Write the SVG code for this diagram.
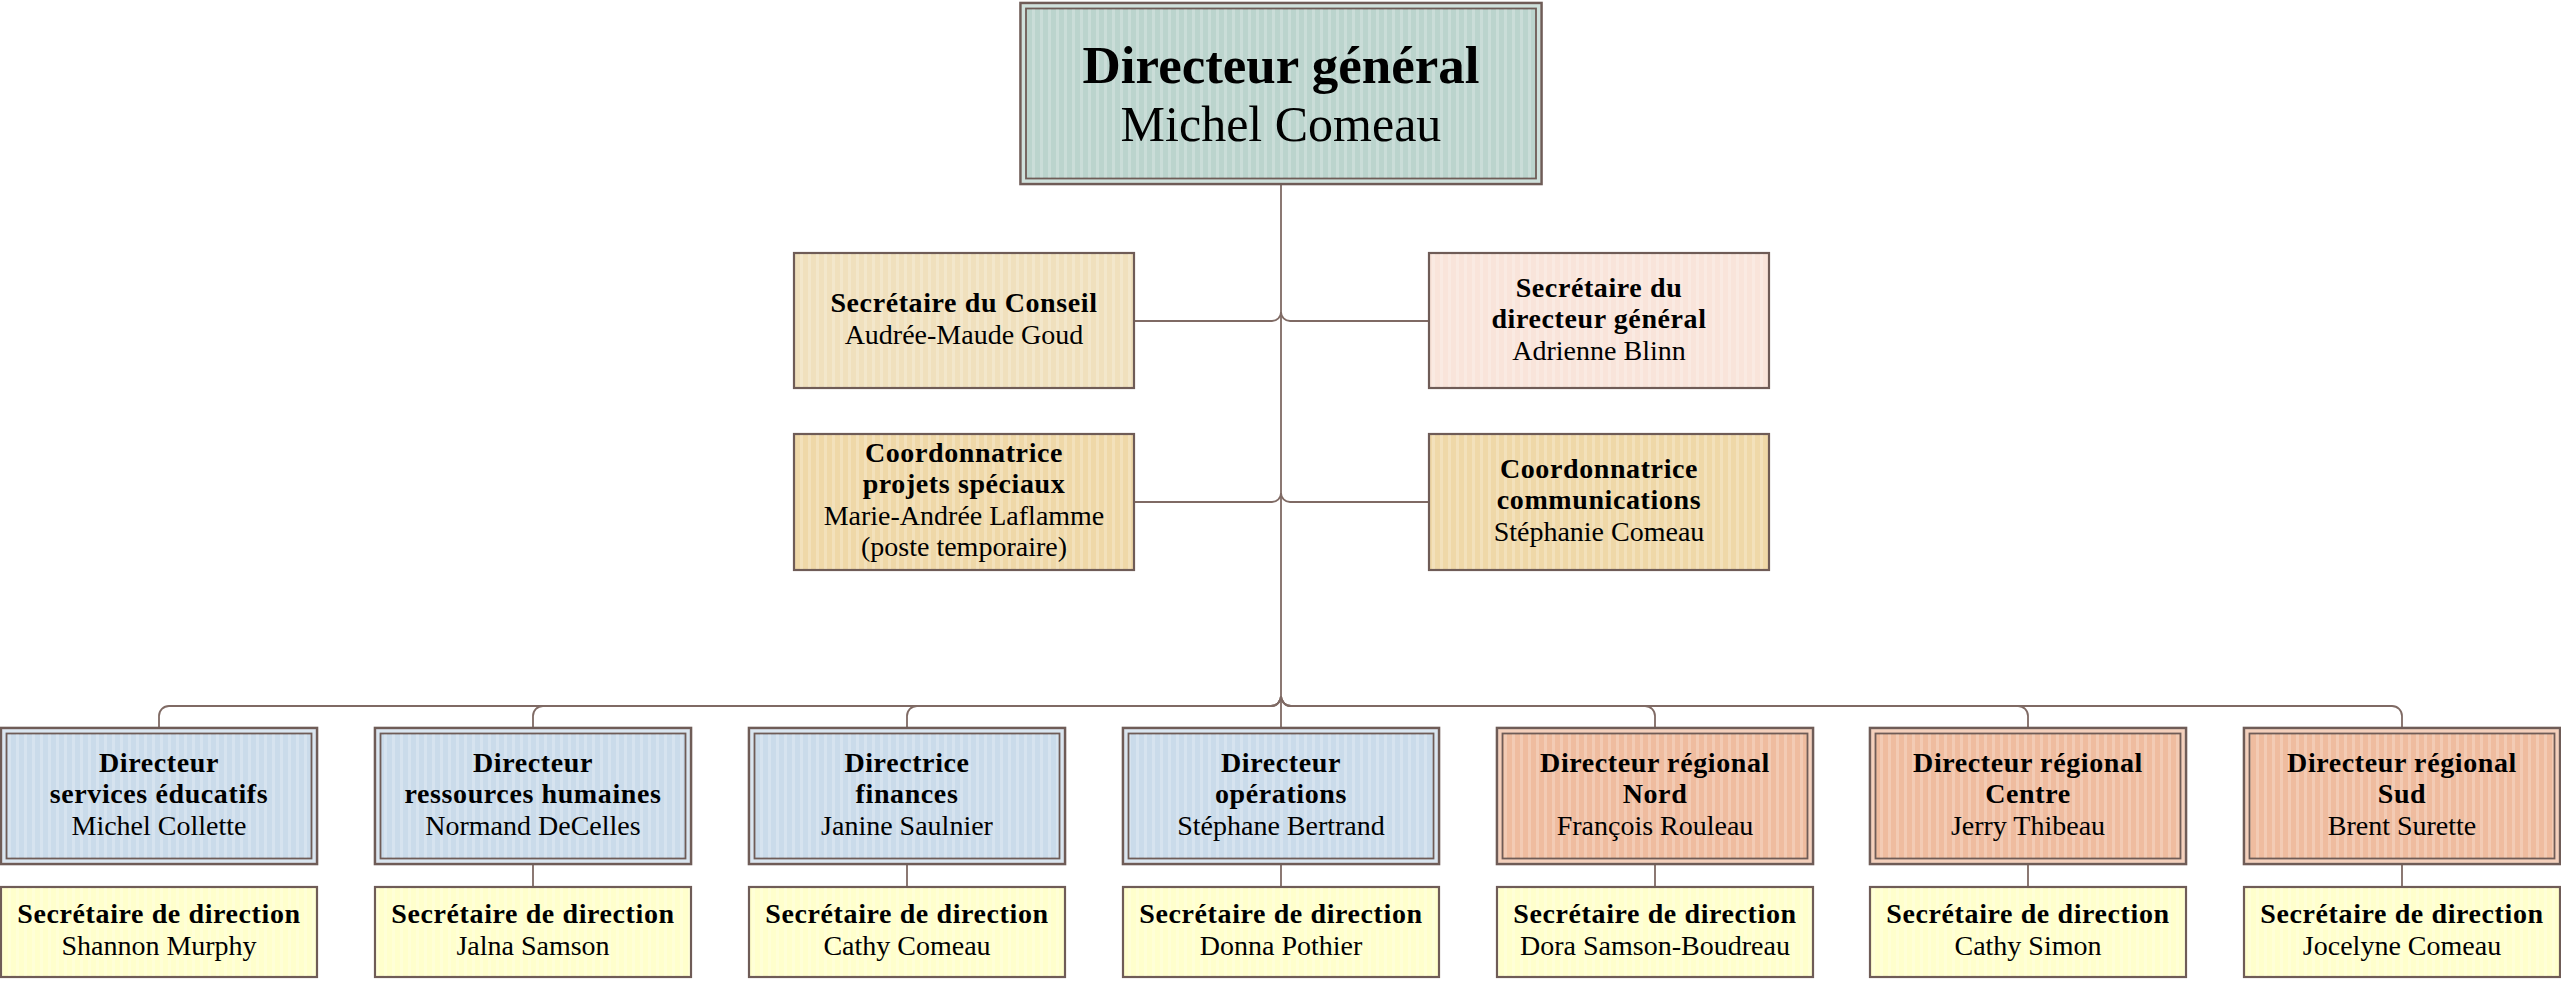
<svg xmlns="http://www.w3.org/2000/svg" width="2561" height="981" viewBox="0 0 2561 981">
<defs>
<pattern id="stripes" patternUnits="userSpaceOnUse" width="8" height="10">
<rect x="0" y="0" width="3" height="10" fill="#ffffff" fill-opacity="0.22"/>
</pattern>
<style>
.bx{stroke:#6f5c57;stroke-width:2.2}
.band{stroke:#6f5c57;stroke-width:2.6}
.inner{stroke:#6f5c57;stroke-width:1.8}
.st{fill:url(#stripes);stroke:none}
.teal{fill:#bbd4cd}
.blue{fill:#cadbea}
.sal{fill:#efbc9f}
.yel{fill:#ffffcc}
.cons{fill:#f0e0bd}
.sdg{fill:#f9e4da}
.coo{fill:#efd8a8}
.wash{fill:#ffffff;fill-opacity:0.3;stroke:none}
text{font-family:"Liberation Serif","Times New Roman",serif;fill:#000;text-anchor:middle}
.b{font-weight:bold;font-size:28px;letter-spacing:0.6px}
.r{font-size:28px}
.conn path{fill:none;stroke:#7f6a64;stroke-width:1.8}
</style>
</defs>

<g class="conn" id="connectors">
<path d="M1281,184 V728"/>
<path d="M1134,321 H1272 A9,9 0 0 0 1281,312"/>
<path d="M1429,321 H1290 A9,9 0 0 1 1281,312"/>
<path d="M1134,502 H1272 A9,9 0 0 0 1281,493"/>
<path d="M1429,502 H1290 A9,9 0 0 1 1281,493"/>
<path d="M1281,696 A10,10 0 0 1 1271,706 H169 A10,10 0 0 0 159,716 V728"/>
<path d="M1281,696 A10,10 0 0 1 1271,706 H543 A10,10 0 0 0 533,716 V728"/>
<path d="M1281,696 A10,10 0 0 1 1271,706 H917 A10,10 0 0 0 907,716 V728"/>
<path d="M1281,696 A10,10 0 0 0 1291,706 H1645 A10,10 0 0 1 1655,716 V728"/>
<path d="M1281,696 A10,10 0 0 0 1291,706 H2018 A10,10 0 0 1 2028,716 V728"/>
<path d="M1281,696 A10,10 0 0 0 1291,706 H2392 A10,10 0 0 1 2402,716 V728"/>
<path d="M533,865 V887"/>
<path d="M907,865 V887"/>
<path d="M1281,865 V887"/>
<path d="M1655,865 V887"/>
<path d="M2028,865 V887"/>
<path d="M2402,865 V887"/>
</g>

<g id="dg">
<rect class="band teal" x="1020.5" y="3" width="521" height="181"/>
<rect class="wash" x="1021.5" y="4" width="519" height="179"/>
<rect class="inner teal" x="1026" y="8.5" width="510" height="170"/>
<rect class="st" x="1027" y="9.5" width="508" height="168"/>
<text x="1281" y="83" style="font-weight:bold;font-size:53px">Directeur général</text>
<text x="1281" y="141" style="font-size:50px">Michel Comeau</text>
</g>

<g id="sec-conseil">
<rect class="bx cons" x="794" y="253" width="340" height="135"/>
<rect class="st" x="795" y="254" width="338" height="133"/>
<text class="b" x="964" y="312.3">Secrétaire du Conseil</text>
<text class="r" x="964" y="343.8">Audrée-Maude Goud</text>
</g>

<g id="sec-dg">
<rect class="bx sdg" x="1429" y="253" width="340" height="135"/>
<rect class="st" x="1430" y="254" width="338" height="133"/>
<text class="b" x="1599" y="296.5">Secrétaire du</text>
<text class="b" x="1599" y="328">directeur général</text>
<text class="r" x="1599" y="359.5">Adrienne Blinn</text>
</g>

<g id="coord-projets">
<rect class="bx coo" x="794" y="434" width="340" height="136"/>
<rect class="st" x="795" y="435" width="338" height="134"/>
<text class="b" x="964" y="461.8">Coordonnatrice</text>
<text class="b" x="964" y="493.3">projets spéciaux</text>
<text class="r" x="964" y="524.8">Marie-Andrée Laflamme</text>
<text class="r" x="964" y="556.3">(poste temporaire)</text>
</g>

<g id="coord-comm">
<rect class="bx coo" x="1429" y="434" width="340" height="136"/>
<rect class="st" x="1430" y="435" width="338" height="134"/>
<text class="b" x="1599" y="477.5">Coordonnatrice</text>
<text class="b" x="1599" y="509">communications</text>
<text class="r" x="1599" y="540.5">Stéphanie Comeau</text>
</g>

<g id="dir-educ">
<rect class="band blue" x="1" y="728" width="316" height="136"/>
<rect class="wash" x="2" y="729" width="314" height="134"/>
<rect class="inner blue" x="6.5" y="733.5" width="305" height="125"/>
<rect class="st" x="7.5" y="734.5" width="303" height="123"/>
<text class="b" x="159" y="771.5">Directeur</text>
<text class="b" x="159" y="803">services éducatifs</text>
<text class="r" x="159" y="834.5">Michel Collette</text>
</g>

<g id="dir-rh">
<rect class="band blue" x="375" y="728" width="316" height="136"/>
<rect class="wash" x="376" y="729" width="314" height="134"/>
<rect class="inner blue" x="380.5" y="733.5" width="305" height="125"/>
<rect class="st" x="381.5" y="734.5" width="303" height="123"/>
<text class="b" x="533" y="771.5">Directeur</text>
<text class="b" x="533" y="803">ressources humaines</text>
<text class="r" x="533" y="834.5">Normand DeCelles</text>
</g>

<g id="dir-fin">
<rect class="band blue" x="749" y="728" width="316" height="136"/>
<rect class="wash" x="750" y="729" width="314" height="134"/>
<rect class="inner blue" x="754.5" y="733.5" width="305" height="125"/>
<rect class="st" x="755.5" y="734.5" width="303" height="123"/>
<text class="b" x="907" y="771.5">Directrice</text>
<text class="b" x="907" y="803">finances</text>
<text class="r" x="907" y="834.5">Janine Saulnier</text>
</g>

<g id="dir-ops">
<rect class="band blue" x="1123" y="728" width="316" height="136"/>
<rect class="wash" x="1124" y="729" width="314" height="134"/>
<rect class="inner blue" x="1128.5" y="733.5" width="305" height="125"/>
<rect class="st" x="1129.5" y="734.5" width="303" height="123"/>
<text class="b" x="1281" y="771.5">Directeur</text>
<text class="b" x="1281" y="803">opérations</text>
<text class="r" x="1281" y="834.5">Stéphane Bertrand</text>
</g>

<g id="dir-nord">
<rect class="band sal" x="1497" y="728" width="316" height="136"/>
<rect class="wash" x="1498" y="729" width="314" height="134"/>
<rect class="inner sal" x="1502.5" y="733.5" width="305" height="125"/>
<rect class="st" x="1503.5" y="734.5" width="303" height="123"/>
<text class="b" x="1655" y="771.5">Directeur régional</text>
<text class="b" x="1655" y="803">Nord</text>
<text class="r" x="1655" y="834.5">François Rouleau</text>
</g>

<g id="dir-centre">
<rect class="band sal" x="1870" y="728" width="316" height="136"/>
<rect class="wash" x="1871" y="729" width="314" height="134"/>
<rect class="inner sal" x="1875.5" y="733.5" width="305" height="125"/>
<rect class="st" x="1876.5" y="734.5" width="303" height="123"/>
<text class="b" x="2028" y="771.5">Directeur régional</text>
<text class="b" x="2028" y="803">Centre</text>
<text class="r" x="2028" y="834.5">Jerry Thibeau</text>
</g>

<g id="dir-sud">
<rect class="band sal" x="2244" y="728" width="316" height="136"/>
<rect class="wash" x="2245" y="729" width="314" height="134"/>
<rect class="inner sal" x="2249.5" y="733.5" width="305" height="125"/>
<rect class="st" x="2250.5" y="734.5" width="303" height="123"/>
<text class="b" x="2402" y="771.5">Directeur régional</text>
<text class="b" x="2402" y="803">Sud</text>
<text class="r" x="2402" y="834.5">Brent Surette</text>
</g>

<g id="sec-educ">
<rect class="bx yel" x="1" y="887" width="316" height="90"/>
<rect class="st" x="2" y="888" width="314" height="88"/>
<text class="b" x="159" y="923.3">Secrétaire de direction</text>
<text class="r" x="159" y="954.8">Shannon Murphy</text>
</g>

<g id="sec-rh">
<rect class="bx yel" x="375" y="887" width="316" height="90"/>
<rect class="st" x="376" y="888" width="314" height="88"/>
<text class="b" x="533" y="923.3">Secrétaire de direction</text>
<text class="r" x="533" y="954.8">Jalna Samson</text>
</g>

<g id="sec-fin">
<rect class="bx yel" x="749" y="887" width="316" height="90"/>
<rect class="st" x="750" y="888" width="314" height="88"/>
<text class="b" x="907" y="923.3">Secrétaire de direction</text>
<text class="r" x="907" y="954.8">Cathy Comeau</text>
</g>

<g id="sec-ops">
<rect class="bx yel" x="1123" y="887" width="316" height="90"/>
<rect class="st" x="1124" y="888" width="314" height="88"/>
<text class="b" x="1281" y="923.3">Secrétaire de direction</text>
<text class="r" x="1281" y="954.8">Donna Pothier</text>
</g>

<g id="sec-nord">
<rect class="bx yel" x="1497" y="887" width="316" height="90"/>
<rect class="st" x="1498" y="888" width="314" height="88"/>
<text class="b" x="1655" y="923.3">Secrétaire de direction</text>
<text class="r" x="1655" y="954.8">Dora Samson-Boudreau</text>
</g>

<g id="sec-centre">
<rect class="bx yel" x="1870" y="887" width="316" height="90"/>
<rect class="st" x="1871" y="888" width="314" height="88"/>
<text class="b" x="2028" y="923.3">Secrétaire de direction</text>
<text class="r" x="2028" y="954.8">Cathy Simon</text>
</g>

<g id="sec-sud">
<rect class="bx yel" x="2244" y="887" width="316" height="90"/>
<rect class="st" x="2245" y="888" width="314" height="88"/>
<text class="b" x="2402" y="923.3">Secrétaire de direction</text>
<text class="r" x="2402" y="954.8">Jocelyne Comeau</text>
</g>
</svg>
